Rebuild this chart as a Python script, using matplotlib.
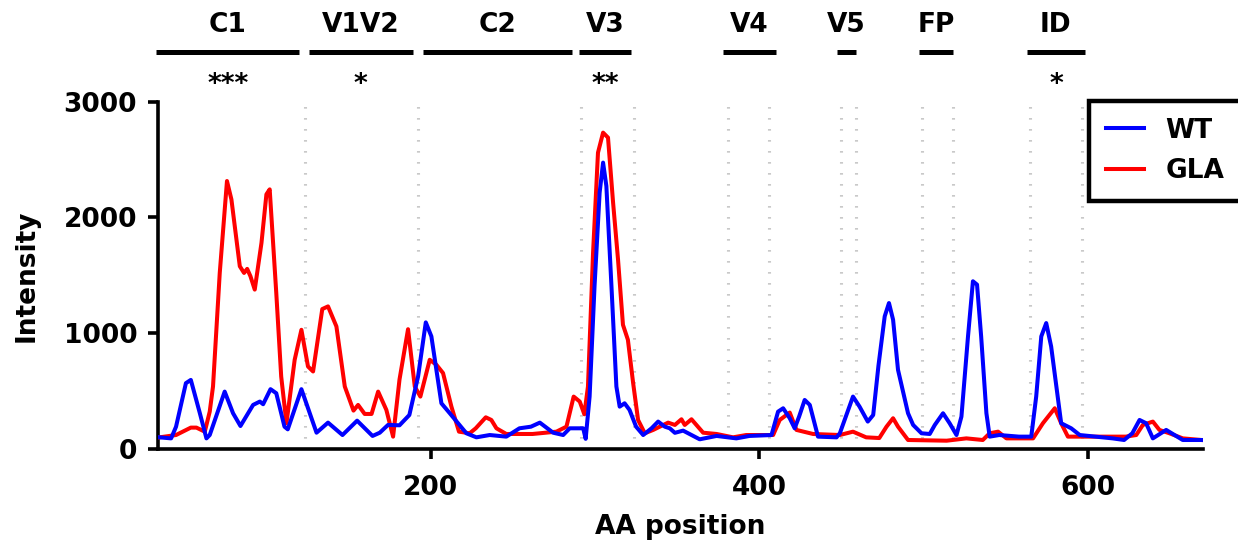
import matplotlib
matplotlib.use("Agg")
import matplotlib.pyplot as plt
import matplotlib.transforms as mtransforms

# intensity profiles (AA position, intensity)
wt_pos = [35, 42, 45, 51, 54, 59.5, 63.5, 65.5, 74.6, 79.7, 84.2, 91.9, 96, 98,
          102.5, 106, 111, 113, 121.3, 130.5, 137.5, 146.3, 155.2, 164.6, 169,
          174, 181, 187, 192.3, 197, 200.4, 206.5, 211.6, 221.7, 227.8, 235.9,
          246, 254, 261, 266.4, 274.5, 280.6, 284.6, 292.8, 294.3, 296.7, 299.7,
          302.8, 304.9, 306.9, 310, 313, 315, 318, 321, 325, 329.3, 334.4, 338.4,
          342.5, 345.5, 348.6, 353.6, 363.7, 374, 386, 394, 407.4, 411.4, 414.5,
          418.5, 421.5, 424.2, 427.6, 430.7, 435.7, 447, 449, 457, 461, 466,
          469.3, 472.5, 476.3, 478.9, 481.4, 484.4, 490.5, 493.6, 498.7, 503.7,
          506.8, 511.8, 515.8, 520, 523, 527, 530, 532.5, 535, 538.2, 540.2, 546,
          558, 565.5, 568.5, 571.6, 574.6, 577.6, 583.7, 589.8, 595, 615, 622,
          627, 631.4, 635.4, 639.5, 647.6, 657.7, 669]
wt_int = [101, 92, 193, 569, 597, 309, 92, 121, 496, 309, 199, 381, 410, 387,
          517, 482, 193, 170, 517, 141, 228, 121, 245, 113, 141,
          208, 205, 294, 626, 1094, 973, 395, 309, 136, 101, 121,
          107, 179, 193, 228, 141, 121, 179, 179, 88, 453, 1406,
          2214, 2474, 2272, 1406, 540, 366, 395, 338, 193, 121, 179, 237,
          193, 179, 140, 159, 84, 113, 92, 113, 121, 323, 352,
          266, 179, 280, 424, 381, 107, 101, 136, 453, 366, 237,
          294, 720, 1146, 1261, 1117, 684, 309, 208, 136, 130,
          208, 309, 223, 121, 280, 973, 1449, 1420, 973, 309, 107, 121,
          107, 107, 453, 973, 1088, 886, 223, 179, 121, 92, 78,
          136, 251, 223, 92, 165, 78, 78]

gla_pos = [35, 45, 54, 57.4, 62.5, 65.5, 67.5, 71.6, 76, 78.7, 83.8, 86.4, 88.3,
           90.3, 92.9, 97, 100, 102, 106, 109, 112.2, 117.2, 121.3, 125.3, 128.4,
           134, 137.5, 142.6, 147.7, 153, 155.8, 159.8, 164, 168, 173, 177.1,
           181, 186.2, 190.3, 193.7, 199.4, 203.5, 207.5, 212.6, 217.2, 223.7,
           227.4, 233.5, 236.9, 240, 246, 262, 276.5, 282.6, 287, 290.7, 293.5,
           295.7, 298.8, 301.8, 304.9, 307.9, 311, 314, 317, 320, 323.2, 326.2,
           330.3, 335.4, 339.4, 344.5, 348.6, 352.6, 354.6, 358.7, 361.7, 365.8,
           374, 384, 392, 408.4, 412.4, 418.5, 422.6, 432.7, 449, 457, 465, 473,
           477.4, 481.4, 484.4, 490.5, 514, 526, 536, 540.2, 545.3, 550.4, 566.6,
           572.6, 579.8, 583.7, 587.8, 603, 623, 629.4, 633.4, 639.5, 643.5,
           649.6, 657.7, 669]
gla_int = [101, 121, 185, 185, 150, 323, 540, 1521, 2315, 2156, 1579, 1521, 1556,
           1492, 1377, 1781, 2200, 2243, 1348, 626, 223, 771, 1030, 713, 670,
           1209, 1232, 1059, 540, 332, 381, 303, 303, 496, 338, 107,
           600, 1035, 540, 453, 771, 727, 656, 366, 150, 136,
           179, 274, 251, 179, 130, 130, 150, 193, 453, 410, 300,
           540, 1694, 2560, 2733, 2690, 2127, 1636, 1073, 944, 569, 251,
           136, 165, 193, 228, 208, 257, 208, 257, 208, 141,
           130, 101, 121, 121, 251, 315, 165, 130, 121, 150, 101, 95,
           193, 266, 193, 78, 72, 92, 78, 136, 150, 92, 92,
           223, 352, 223, 107, 107, 107, 121, 208, 237, 165,
           136, 92, 78]

# gp120/gp41 regions marked above the plot
regions = ["C1", "V1V2", "C2", "V3", "V4", "V5", "FP", "ID"]
region_start = [33, 126, 195, 290, 378, 447, 497, 563]
region_end = [120, 189, 286, 322, 410, 459, 518, 598]
region_stars = ["***", "*", "", "**", "", "", "", "*"]

# faint dotted guides at region boundaries
guides = [123.5, 192, 291.5, 323.5, 381, 406, 449.5, 458.7, 499, 518, 565, 596.5]

plt.rcParams["font.family"] = ["DejaVu Sans"]
plt.rcParams["font.weight"] = "bold"

fig = plt.figure(figsize=(12.38, 5.49), dpi=100)
ax = fig.add_axes([0.1276, 0.1821, 0.8441, 0.6326])

ax.vlines(guides, 0, 3000, colors="#b5b5b5", linewidth=2.2,
          linestyles=[(0, (0.4, 3.2))], zorder=1)

ax.plot(gla_pos, gla_int, color="#ff0000", linewidth=2.9, label="GLA", zorder=3)
ax.plot(wt_pos, wt_int, color="#0000ff", linewidth=2.9, label="WT", zorder=4)

ax.set_xlim(34, 670)
ax.set_ylim(0, 3000)
ax.set_xticks([200, 400, 600])
ax.set_yticks([0, 1000, 2000, 3000])

for side in ["top", "right"]:
    ax.spines[side].set_visible(False)
for side in ["left", "bottom"]:
    ax.spines[side].set_linewidth(2.6)
ax.tick_params(axis="both", labelsize=19, width=2.6, length=7)
ax.tick_params(axis="y", pad=8)
ax.tick_params(axis="x", pad=12)

ax.set_xlabel("AA position", fontsize=19, fontweight="bold", labelpad=9)
ax.set_ylabel("Intensity", fontsize=19, fontweight="bold", labelpad=17)

# region bars, names and significance stars
trans = mtransforms.blended_transform_factory(ax.transData, ax.transAxes)
for name, s, e, stars in zip(regions, region_start, region_end, region_stars):
    ax.plot([s, e], [1.143, 1.143], color="black", linewidth=3.6,
            transform=trans, clip_on=False, solid_capstyle="butt")
    mid = (s + e) / 2
    ax.text(mid, 1.221, name, transform=trans, ha="center", va="center",
            fontsize=19, fontweight="bold")
    if stars:
        ax.text(mid, 1.048, stars, transform=trans, ha="center", va="center",
                fontsize=19, fontweight="bold")

handles, labels = ax.get_legend_handles_labels()
leg = ax.legend(handles[::-1], labels[::-1], loc="upper left",
                bbox_to_anchor=(1089 / 1238, 1 - 106 / 549, 0.25, 0.01),
                bbox_transform=fig.transFigure, mode="expand",
                fontsize=19, frameon=True, fancybox=False, framealpha=1,
                borderaxespad=0, handlelength=1.45, handletextpad=0.8,
                labelspacing=0.55, borderpad=0.65)
leg.get_frame().set_edgecolor("black")
leg.get_frame().set_linewidth(3.2)
for line in leg.get_lines():
    line.set_linewidth(2.9)

fig.savefig("out.png", dpi=100)
